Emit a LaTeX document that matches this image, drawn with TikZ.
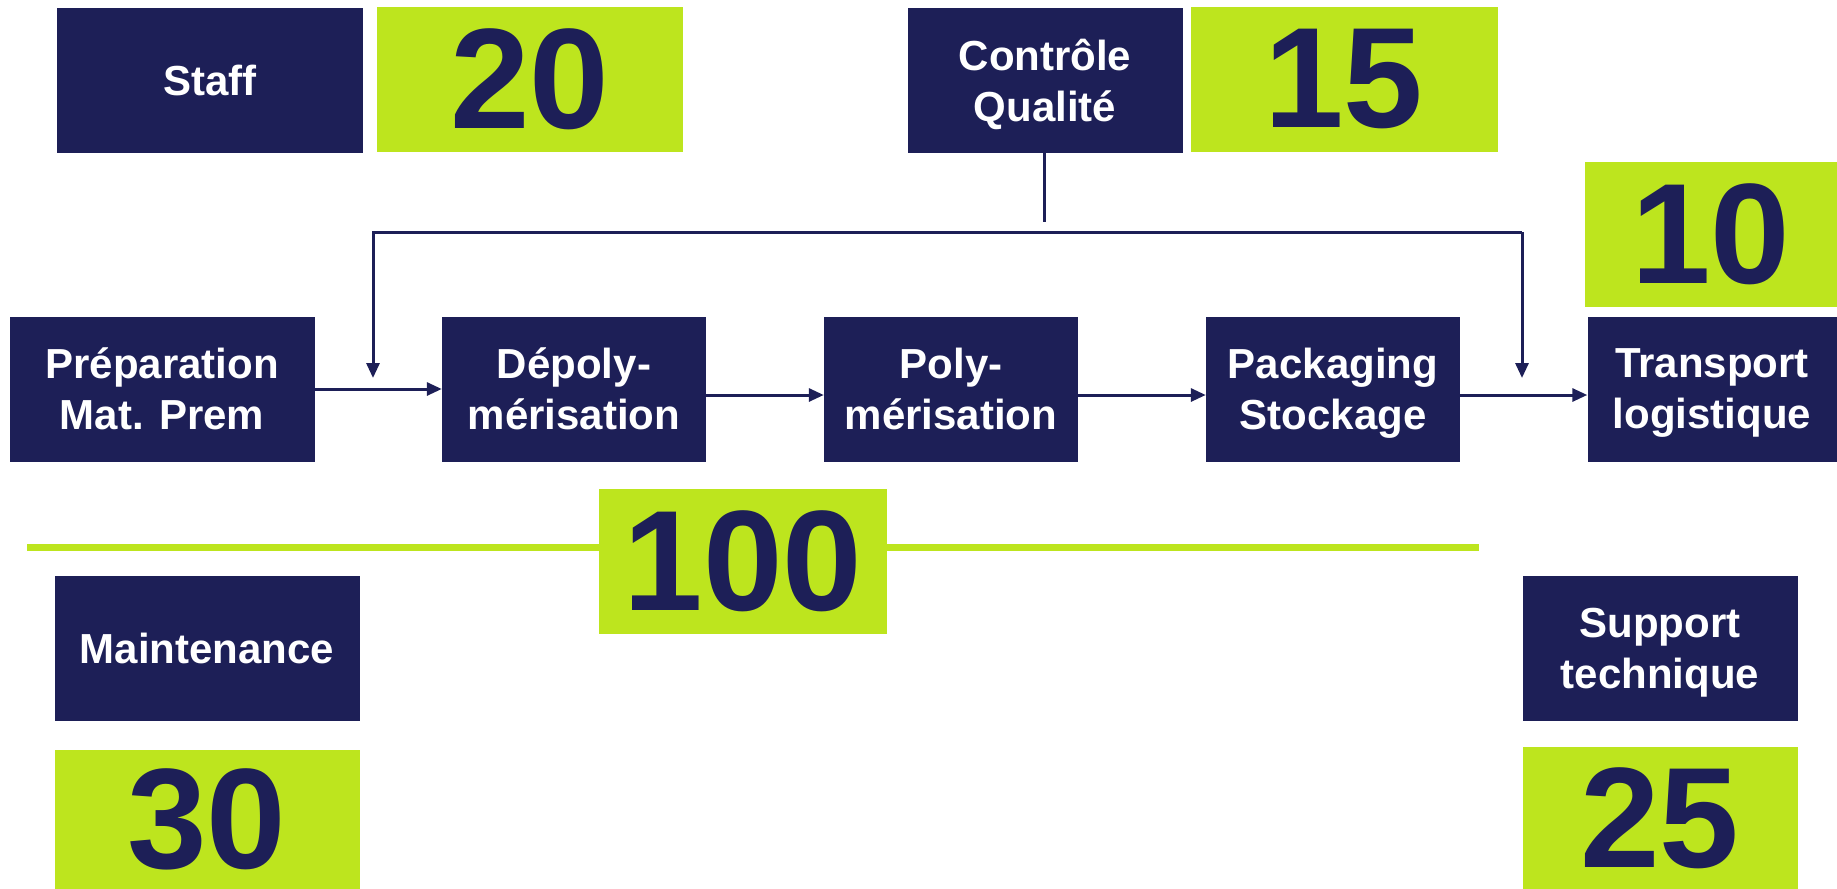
\documentclass[tikz,border=0pt]{standalone}
\usepackage{fontspec}
\setmainfont{Liberation Sans}
\usepackage{xcolor}
\usepackage{tikz}
\usetikzlibrary{
    arrows.meta,
    positioning
}
\definecolor{navy}{RGB}{29,31,87}
\definecolor{lime}{RGB}{189,229,30}
\tikzstyle{stagebox} = [
    rectangle,
    inner sep=0pt,
    minimum height=145pt,
    text depth=0pt,
    text centered,
    align=center,
    fill=navy,
    text=white,
    font=\fontsize{42}{51}\selectfont\bfseries
]
\tikzstyle{countbox} = [
    rectangle,
    inner sep=0pt,
    minimum height=145pt,
    text centered,
    fill=lime,
    text=navy,
    font=\fontsize{143}{143}\selectfont\bfseries
]
\tikzstyle{arrow} = [
    navy,
    line width=3pt,
    -{Triangle[length=15pt,width=13pt]}
]

\begin{document}
\begin{tikzpicture}[x=1pt, y=-1pt]
    \useasboundingbox (0,0) rectangle (1837,889);
    % top row
    \node[stagebox, minimum width=306pt] (staff) at (210,80) {Staff};
    \node[countbox, minimum width=306pt] (nstaff) at (530,79) {20};
    \node[stagebox, minimum width=275pt] (qual) at (1045,80) {Contrôle\\Qualité};
    \node[countbox, minimum width=307pt] (nqual) at (1344,79) {15};
    \node[countbox, minimum width=253pt] (ntrans) at (1711,234) {10};
    % process chain
    \node[stagebox, minimum width=305pt] (prep) at (162,389) {Préparation\\Mat. Prem};
    \node[stagebox, minimum width=264pt] (depoly) at (574,389) {Dépoly-\\mérisation};
    \node[stagebox, minimum width=254pt] (poly) at (951,389) {Poly-\\mérisation};
    \node[stagebox, minimum width=254pt] (pack) at (1333,389) {Packaging\\Stockage};
    \node[stagebox, minimum width=249pt] (trans) at (1712,389) {Transport\\logistique};
    % green bar and total
    \draw[lime, line width=7pt] (27,547) -- (1479,547);
    \node[countbox, minimum width=288pt] (total) at (743,561) {100};
    % bottom
    \node[stagebox, minimum width=305pt] (maint) at (207,648) {Maintenance};
    \node[countbox, minimum width=305pt, minimum height=139pt] (nmaint) at (207,819) {30};
    \node[stagebox, minimum width=275pt] (supp) at (1660,648) {Support\\technique};
    \node[countbox, minimum width=275pt, minimum height=142pt] (nsupp) at (1660,818) {25};

    \draw[arrow] (prep.east) -- (depoly.west);
    \draw[arrow] ([yshift=-6pt]depoly.east) -- ([yshift=-6pt]poly.west);
    \draw[arrow] ([yshift=-6pt]poly.east) -- ([yshift=-6pt]pack.west);
    \draw[arrow] ([yshift=-6pt]pack.east) -- ([yshift=-6pt]trans.west);

    % quality loop
    \coordinate (qend) at (1044,222);
    \coordinate (qleft) at (373,232);
    \coordinate (qright) at (1522,232);
    \coordinate (qldown) at (373,378);
    \coordinate (qrdown) at (1522,378);
    \draw[navy, line width=3pt] (qual.south -| qend) -- (qend);
    \draw[arrow] (qright) -- (qleft) -- (qldown);
    \draw[arrow] (qright) -- (qrdown);
\end{tikzpicture}
\end{document}
